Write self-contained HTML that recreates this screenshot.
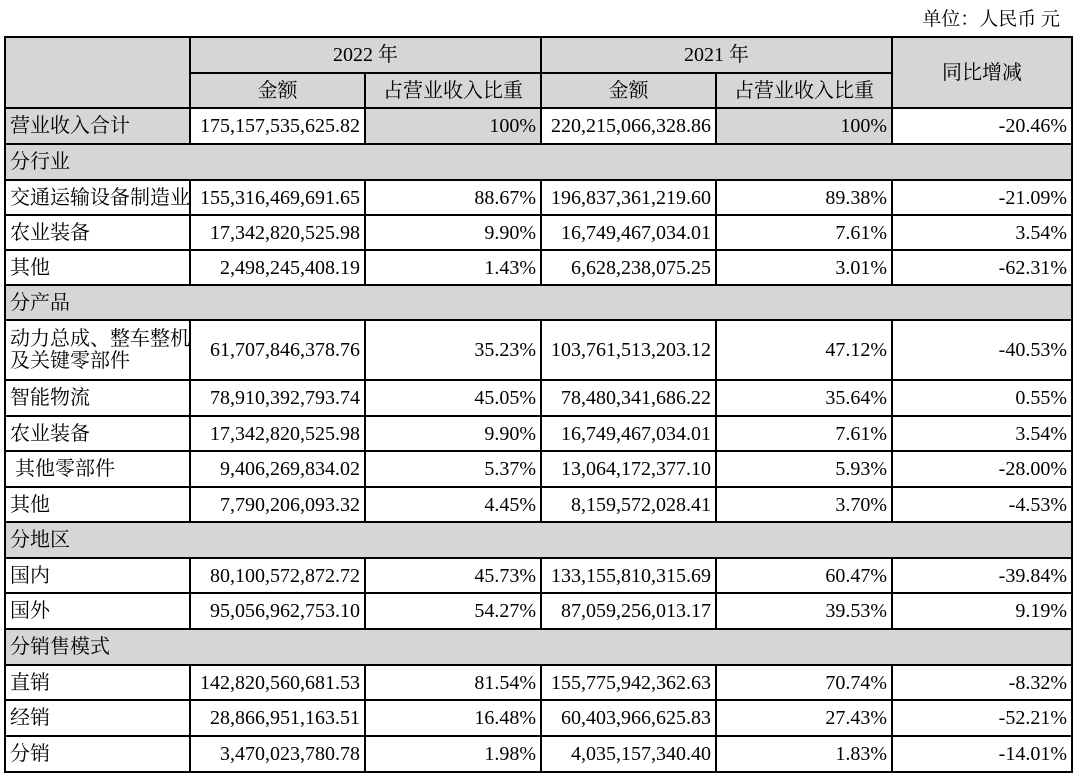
<!DOCTYPE html>
<html><head><meta charset="utf-8"><style>
body{margin:0;width:1078px;height:777px;background:#fff;position:relative;overflow:hidden;font-family:"Liberation Serif","Noto Serif CJK SC",serif;font-size:20px;color:#000}
.c{position:absolute;box-sizing:border-box;border:2px solid #000;display:flex;align-items:center;padding:0 4px;line-height:22px;white-space:pre}
.g{background:#d6d6d6}
.r{justify-content:flex-end}.m{justify-content:center}
#unit{position:absolute;right:18px;top:4px;font-size:19px}
</style></head><body>
<div id="unit">单位：人民币 元</div>
<div id="t"></div>
<script>
const xs=[5,190,365,541,716,892,1072];
const ys=[37,73,108,144,180,215,250,285,320,380,416,451,487,522,558,593,629,665,700,736,772];
const rows=[
["sec","营业收入合计","175,157,535,625.82","100%","220,215,066,328.86","100%","-20.46%"],
["head","分行业"],
["row","交通运输设备制造业","155,316,469,691.65","88.67%","196,837,361,219.60","89.38%","-21.09%"],
["row","农业装备","17,342,820,525.98","9.90%","16,749,467,034.01","7.61%","3.54%"],
["row","其他","2,498,245,408.19","1.43%","6,628,238,075.25","3.01%","-62.31%"],
["head","分产品"],
["row","动力总成、整车整机\n及关键零部件","61,707,846,378.76","35.23%","103,761,513,203.12","47.12%","-40.53%"],
["row","智能物流","78,910,392,793.74","45.05%","78,480,341,686.22","35.64%","0.55%"],
["row","农业装备","17,342,820,525.98","9.90%","16,749,467,034.01","7.61%","3.54%"],
["row"," 其他零部件","9,406,269,834.02","5.37%","13,064,172,377.10","5.93%","-28.00%"],
["row","其他","7,790,206,093.32","4.45%","8,159,572,028.41","3.70%","-4.53%"],
["head","分地区"],
["row","国内","80,100,572,872.72","45.73%","133,155,810,315.69","60.47%","-39.84%"],
["row","国外","95,056,962,753.10","54.27%","87,059,256,013.17","39.53%","9.19%"],
["head","分销售模式"],
["row","直销","142,820,560,681.53","81.54%","155,775,942,362.63","70.74%","-8.32%"],
["row","经销","28,866,951,163.51","16.48%","60,403,966,625.83","27.43%","-52.21%"],
["row","分销","3,470,023,780.78","1.98%","4,035,157,340.40","1.83%","-14.01%"]
];
const T=document.getElementById('t');
function cell(x0,x1,y0,y1,txt,cls,name){
 const d=document.createElement('div');
 d.className='c '+cls;
 d.style.left=(x0-1)+'px';d.style.top=(y0-1)+'px';
 d.style.width=(x1-x0+2)+'px';d.style.height=(y1-y0+2)+'px';
 d.textContent=txt;
 
 
 T.appendChild(d);
}
cell(xs[0],xs[1],ys[0],ys[2],'','g','header-corner');
cell(xs[1],xs[3],ys[0],ys[1],'2022 年','g m','header-2022');
cell(xs[3],xs[5],ys[0],ys[1],'2021 年','g m','header-2021');
cell(xs[5],xs[6],ys[0],ys[2],'同比增减','g m','header-yoy');
cell(xs[1],xs[2],ys[1],ys[2],'金额','g m','header-amount-2022');
cell(xs[2],xs[3],ys[1],ys[2],'占营业收入比重','g m','header-share-2022');
cell(xs[3],xs[4],ys[1],ys[2],'金额','g m','header-amount-2021');
cell(xs[4],xs[5],ys[1],ys[2],'占营业收入比重','g m','header-share-2021');
rows.forEach((r,i)=>{
 const y0=ys[i+2],y1=ys[i+3];
 if(r[0]==='head'){cell(xs[0],xs[6],y0,y1,r[1],'g','section-row');return;}
 const tot=r[0]==='sec';
 cell(xs[0],xs[1],y0,y1,r[1],tot?'g':'','row-label');
 cell(xs[1],xs[2],y0,y1,r[2],'r','amount-2022');
 cell(xs[2],xs[3],y0,y1,r[3],tot?'g r':'r','share-2022');
 cell(xs[3],xs[4],y0,y1,r[4],'r','amount-2021');
 cell(xs[4],xs[5],y0,y1,r[5],tot?'g r':'r','share-2021');
 cell(xs[5],xs[6],y0,y1,r[6],'r','yoy-change');
});
</script>
</body></html>
